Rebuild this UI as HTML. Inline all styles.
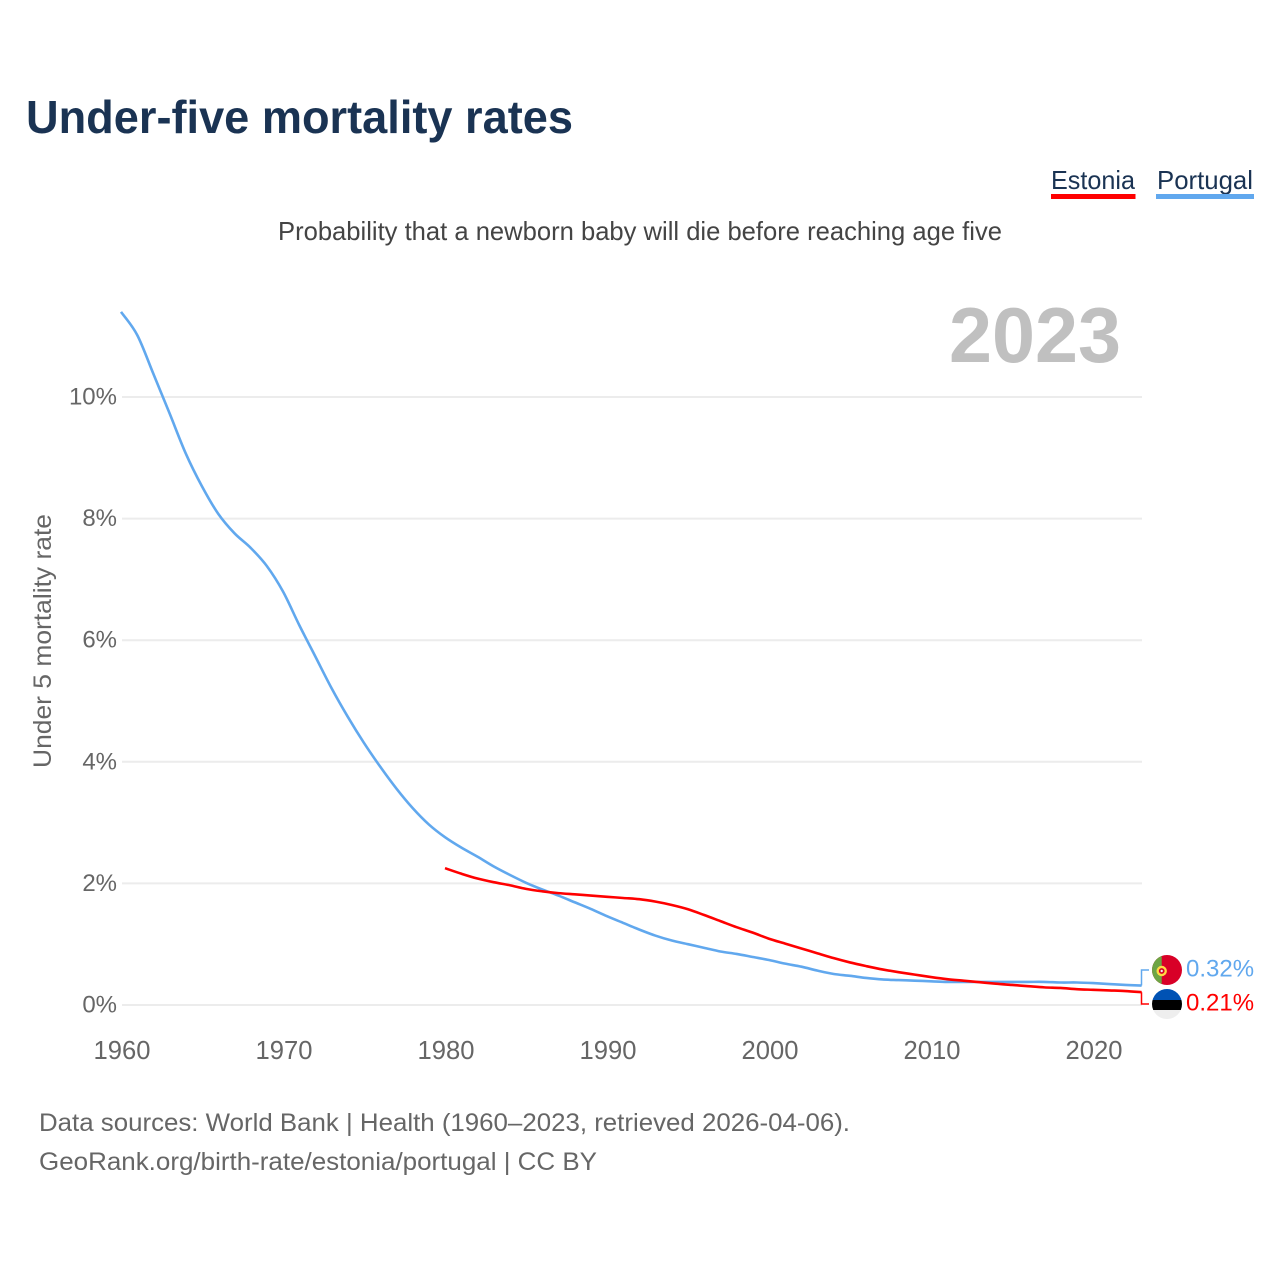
<!DOCTYPE html>
<html lang="en">
<head>
<meta charset="utf-8">
<title>Under-five mortality rates</title>
<style>
html,body{margin:0;padding:0;background:#fff;}
svg{display:block;font-family:"Liberation Sans",sans-serif;}
</style>
</head>
<body>
<svg id="chart" xmlns="http://www.w3.org/2000/svg" width="1280" height="1280" viewBox="0 0 1280 1280">
  <rect width="1280" height="1280" fill="#fff"/>
  <text x="26" y="133" font-size="46" font-weight="bold" fill="#1a3353" textLength="547" lengthAdjust="spacingAndGlyphs">Under-five mortality rates</text>
  <g>
    <g>
      <text x="1051" y="189" font-size="26" fill="#1a3353" textLength="84" lengthAdjust="spacingAndGlyphs">Estonia</text>
      <rect x="1051" y="194" width="84.5" height="5" fill="#ff0000"/>
    </g>
    <g>
      <text x="1157" y="189" font-size="26" fill="#1a3353" textLength="96" lengthAdjust="spacingAndGlyphs">Portugal</text>
      <rect x="1156" y="194" width="98" height="5" fill="#61a8ee"/>
    </g>
  </g>
  <text x="278" y="240" font-size="26" fill="#444" textLength="724" lengthAdjust="spacingAndGlyphs">Probability that a newborn baby will die before reaching age five</text>
  <text x="949" y="362" font-size="78" font-weight="bold" fill="#c0c0c0" textLength="172" lengthAdjust="spacingAndGlyphs">2023</text>
  <g id="grid"></g>
  <g id="yticks"></g>
  <g id="xticks"></g>
  <text transform="translate(51,768) rotate(-90)" x="0" y="0" font-size="25" fill="#666" textLength="254" lengthAdjust="spacingAndGlyphs">Under 5 mortality rate</text>
  <g id="series"></g>
  <g>
    <clipPath id="clip-pt"><circle cx="1167" cy="970" r="15"/></clipPath>
    <g clip-path="url(#clip-pt)">
      <rect x="1150" y="953" width="34" height="34" fill="#d80027"/>
      <rect x="1150" y="953" width="11.7" height="34" fill="#6da544"/>
      <circle cx="1161.7" cy="971" r="5.2" fill="#ffda44"/>
      <circle cx="1161.7" cy="971" r="2.9" fill="#d80027"/>
      <circle cx="1161.7" cy="971" r="1.2" fill="#f0f0f0"/>
    </g>
  </g>
  <g>
    <clipPath id="clip-ee"><circle cx="1167" cy="1004" r="15"/></clipPath>
    <g clip-path="url(#clip-ee)">
      <rect x="1150" y="988" width="34" height="12" fill="#0052b4"/>
      <rect x="1150" y="1000" width="34" height="10" fill="#000"/>
      <rect x="1150" y="1010" width="34" height="10" fill="#eeeeee"/>
    </g>
  </g>
  <text x="39" y="1131" font-size="25" fill="#666" textLength="811" lengthAdjust="spacingAndGlyphs">Data sources: World Bank | Health (1960–2023, retrieved 2026-04-06).</text>
  <text x="39" y="1170" font-size="25" fill="#666" textLength="558" lengthAdjust="spacingAndGlyphs">GeoRank.org/birth-rate/estonia/portugal | CC BY</text>
</svg>
<script>
const portugalStartYear = 1960;
const portugalValues = [11.4,11.02,10.38,9.73,9.07,8.53,8.08,7.76,7.52,7.22,6.8,6.25,5.73,5.21,4.74,4.31,3.92,3.56,3.24,2.97,2.76,2.59,2.44,2.28,2.14,2.01,1.9,1.8,1.69,1.58,1.46,1.35,1.24,1.14,1.06,1.0,0.94,0.88,0.84,0.79,0.74,0.68,0.63,0.565,0.51,0.48,0.445,0.42,0.41,0.4,0.39,0.38,0.38,0.38,0.38,0.38,0.38,0.38,0.37,0.37,0.36,0.345,0.33,0.32];
const estoniaStartYear = 1980;
const estoniaValues = [2.25,2.16,2.08,2.02,1.97,1.91,1.87,1.84,1.82,1.8,1.78,1.76,1.74,1.7,1.645,1.575,1.48,1.38,1.28,1.19,1.09,1.01,0.93,0.85,0.77,0.7,0.64,0.585,0.54,0.5,0.46,0.425,0.4,0.375,0.35,0.33,0.31,0.29,0.28,0.26,0.25,0.24,0.23,0.21];
const yTickValues = [0,2,4,6,8,10];
const xTickYears = [1960,1970,1980,1990,2000,2010,2020];

const NS = 'http://www.w3.org/2000/svg';
function xScale(year){ return 121 + (year - 1960) * 16.2; }
function yScale(v){ return 1005 - v * 60.8; }
function make(tag, attrs, parent, text){
  const el = document.createElementNS(NS, tag);
  for (const k in attrs) el.setAttribute(k, attrs[k]);
  if (text !== undefined) el.textContent = text;
  parent.appendChild(el);
  return el;
}
const grid = document.getElementById('grid');
const yticks = document.getElementById('yticks');
const xticks = document.getElementById('xticks');
const series = document.getElementById('series');

yTickValues.forEach(function(v){
  const line = make('line', {x1:122, x2:1142, y1:yScale(v), y2:yScale(v), stroke:'#ececec', 'stroke-width':2}, grid);
  
  
  const label = make('text', {x:117, y:yScale(v)+7.5, 'font-size':24, fill:'#666', 'text-anchor':'end'}, yticks, v + '%');
  
  
});
xTickYears.forEach(function(y){
  const label = make('text', {x:xScale(y)+1, y:1059, 'font-size':25.6, fill:'#666', 'text-anchor':'middle'}, xticks, String(y));
  
  
});

function smoothPath(values, startYear){
  const p = values.map(function(v,i){ return [xScale(startYear+i), yScale(v)]; });
  let d = 'M' + p[0][0].toFixed(2) + ' ' + p[0][1].toFixed(2);
  for (let i = 0; i < p.length-1; i++){
    const a = p[Math.max(i-1,0)], b = p[i], c = p[i+1], e = p[Math.min(i+2,p.length-1)];
    d += ' C' + (b[0]+(c[0]-a[0])/6).toFixed(2) + ' ' + (b[1]+(c[1]-a[1])/6).toFixed(2) +
         ' ' + (c[0]-(e[0]-b[0])/6).toFixed(2) + ' ' + (c[1]-(e[1]-b[1])/6).toFixed(2) +
         ' ' + c[0].toFixed(2) + ' ' + c[1].toFixed(2);
  }
  return d;
}
function drawLine(values, startYear, color, name, labelY){
  const lastY = yScale(values[values.length-1]);
  const endX = xScale(startYear+values.length-1);
  const leader = make('polyline', {points:endX+','+lastY+' 1141.5,'+lastY+' 1141.5,'+labelY+' 1149,'+labelY, fill:'none', stroke:color, 'stroke-width':1.5}, series);
  
  
  const path = make('path', {d:smoothPath(values, startYear), fill:'none', stroke:color, 'stroke-width':2.6, 'stroke-linejoin':'round'}, series);
  
  
  const label = make('text', {x:1186, y:labelY+6.5, 'font-size':24, fill:color}, series, values[values.length-1].toFixed(2) + '%');
  
  
}
drawLine(portugalValues, portugalStartYear, '#61a8ee', 'portugal', 970);
drawLine(estoniaValues, estoniaStartYear, '#ff0000', 'estonia', 1004);
</script>
</body>
</html>
